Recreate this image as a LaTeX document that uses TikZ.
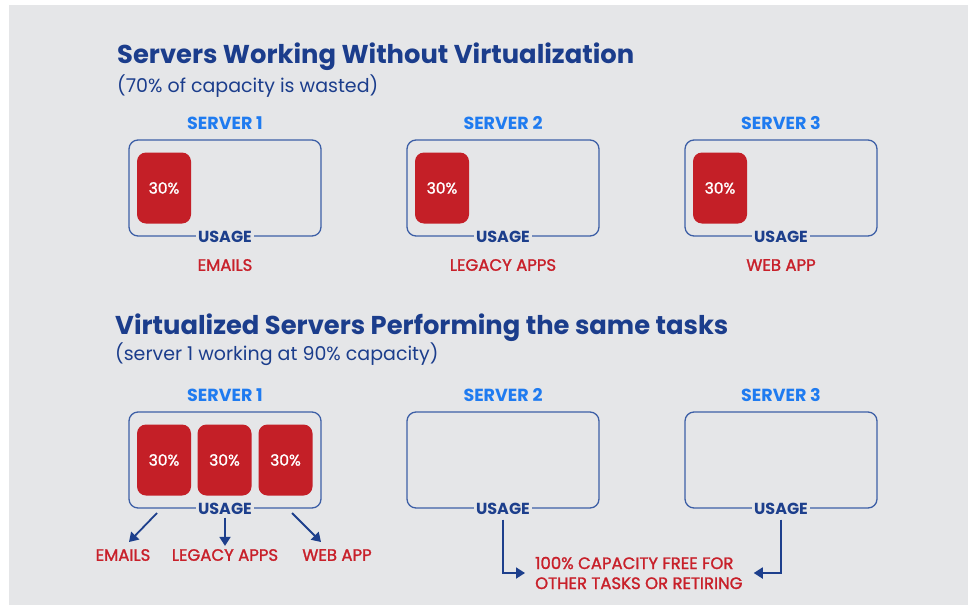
\documentclass[tikz,border=0pt]{standalone}
\usepackage{fontspec}
\setmainfont{Poppins}
\newfontfamily\popmed{Poppins}[FakeBold=1.5]
\usetikzlibrary{arrows.meta}
\definecolor{bg}{HTML}{E5E6E8}
\definecolor{titleblue}{HTML}{1B3D8C}
\definecolor{srvblue}{HTML}{1F7BF0}
\definecolor{boxblue}{HTML}{3D5FA6}
\definecolor{usageblue}{HTML}{1D3F8C}
\definecolor{slotred}{HTML}{C41F27}
\definecolor{taskred}{HTML}{C8202A}
\tikzset{
  title/.style={anchor=base west, text=titleblue, inner sep=0, font=\bfseries\fontsize{25.8}{30}\selectfont},
  subtitle/.style={anchor=base west, text=titleblue, inner sep=0, font=\fontsize{19}{22}\selectfont},
  srvlabel/.style={text=srvblue, inner sep=0, font=\bfseries\fontsize{17.5}{17.5}\selectfont},
  serverbox/.style={draw=boxblue, line width=1.3pt, rounded corners=9pt, minimum width=192pt, minimum height=96pt, inner sep=0},
  slot/.style={fill=slotred, rounded corners=9pt, minimum width=54pt, minimum height=71pt, inner sep=0, text=white, font=\popmed\fontsize{15.5}{15.5}\selectfont},
  usage/.style={fill=bg, text=usageblue, inner xsep=2pt, inner ysep=1pt, font=\bfseries\fontsize{16}{16}\selectfont},
  task/.style={text=taskred, inner sep=0, font=\popmed\fontsize{16.5}{20}\selectfont},
  flow/.style={draw=usageblue, line width=1.8pt, -{Triangle[length=9pt,width=11pt]}}
}
\begin{document}
\begin{tikzpicture}[x=1pt,y=-1pt]
\useasboundingbox (0,0) rectangle (968,605);
\fill[bg] (9,5) rectangle (968,605);

% ---- servers without virtualization ----
\node[title] (t1) at (117,63) {Servers Working Without Virtualization};
\node[subtitle] (s1) at (117,92) {(70\% of capacity is wasted)};

\node[srvlabel] (l1) at (225,123) {SERVER 1};
\node[srvlabel] (l2) at (503,123) {SERVER 2};
\node[srvlabel] (l3) at (781,123) {SERVER 3};

\node[serverbox] (b1) at (225,188) {};
\node[serverbox] (b2) at (503,188) {};
\node[serverbox] (b3) at (781,188) {};

\node[slot] (r1) at (164,188) {30\%};
\node[slot] (r2) at (442,188) {30\%};
\node[slot] (r3) at (720,188) {30\%};

\node[usage] (u1) at (b1.south) {USAGE};
\node[usage] (u2) at (b2.south) {USAGE};
\node[usage] (u3) at (b3.south) {USAGE};

\node[task] (k1) at (225,265) {EMAILS};
\node[task] (k2) at (503,265) {LEGACY APPS};
\node[task] (k3) at (781,265) {WEB APP};

% ---- virtualized servers ----
\node[title] (t2) at (115,334) {Virtualized Servers Performing the same tasks};
\node[subtitle] (s2) at (115,360) {(server 1 working at 90\% capacity)};

\node[srvlabel] (vl1) at (225,395) {SERVER 1};
\node[srvlabel] (vl2) at (503,395) {SERVER 2};
\node[srvlabel] (vl3) at (781,395) {SERVER 3};

\node[serverbox] (vb1) at (225,460) {};
\node[serverbox] (vb2) at (503,460) {};
\node[serverbox] (vb3) at (781,460) {};

\node[slot] (vr1) at (164,460) {30\%};
\node[slot] (vr2) at (224.5,460) {30\%};
\node[slot] (vr3) at (285.5,460) {30\%};

\node[usage] (vu1) at (vb1.south) {USAGE};
\node[usage] (vu2) at (vb2.south) {USAGE};
\node[usage] (vu3) at (vb3.south) {USAGE};

\node[task] (vk1) at (123,555) {EMAILS};
\node[task] (vk2) at (225,555) {LEGACY APPS};
\node[task] (vk3) at (337,555) {WEB APP};

\node[task, anchor=west, align=left] (free) at (535,573) {100\% CAPACITY FREE FOR\\OTHER TASKS OR RETIRING};

% connectors
\coordinate (es) at (157,513);
\coordinate (ee) at (129,542);
\coordinate (ws) at (292,513);
\coordinate (we) at (321,542);
\draw[flow] (es) -- (ee);
\draw[flow, shorten <=2pt, shorten >=3pt] (vu1.south) -- (vk2.north);
\draw[flow] (ws) -- (we);
\draw[flow, shorten <=4pt, shorten >=10pt] (vu2.south) |- (free.west);
\draw[flow, shorten <=4pt, shorten >=11pt] (vu3.south) |- (free.east);
\end{tikzpicture}
\end{document}
